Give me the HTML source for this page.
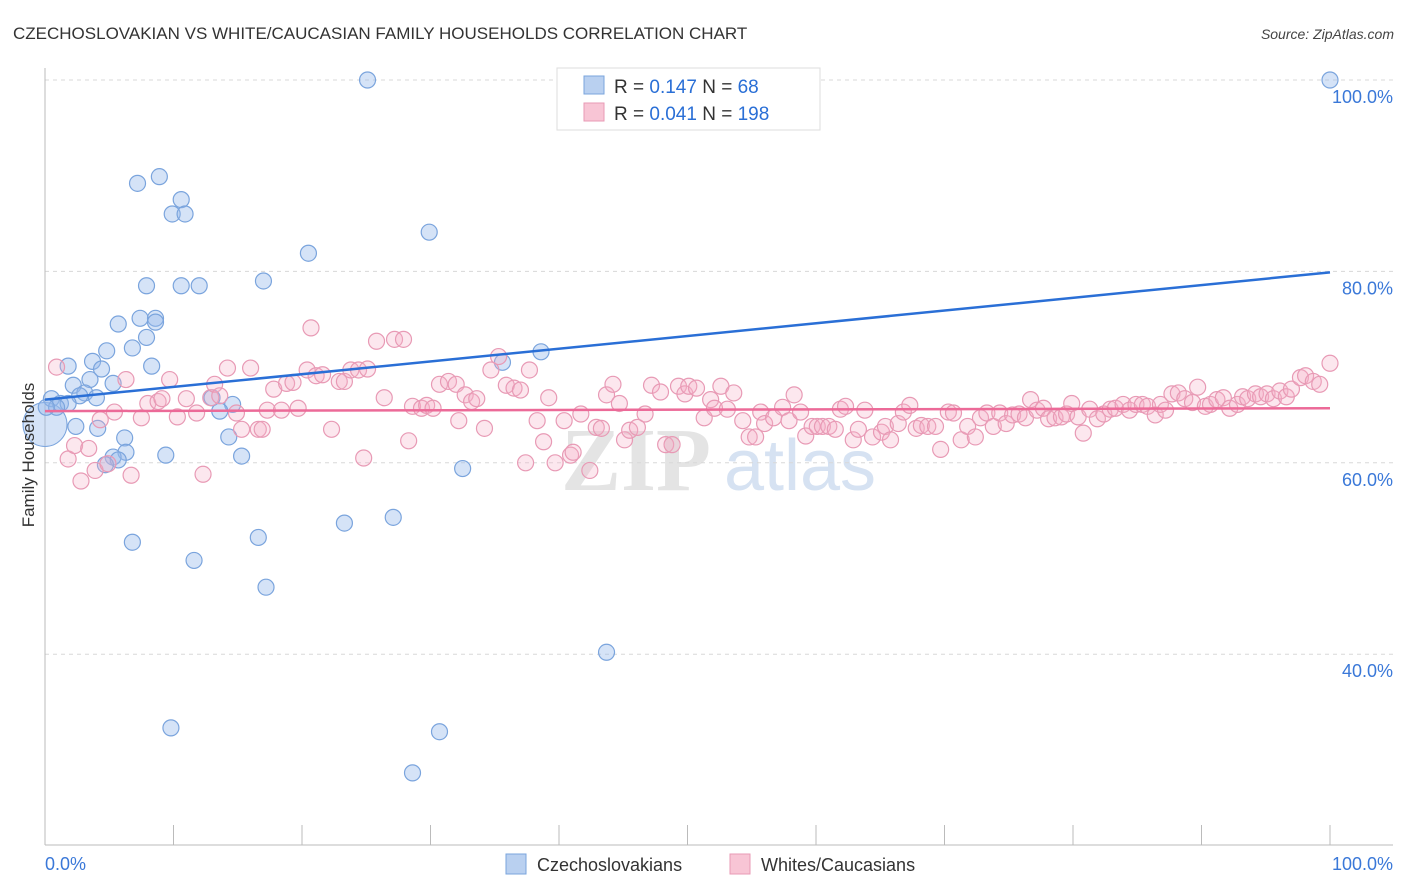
<!DOCTYPE html>
<html><head><meta charset="utf-8">
<style>
body{margin:0;background:#fff;font-family:"Liberation Sans",sans-serif;}
svg{display:block}
</style></head>
<body>
<svg id="chart" width="1406" height="892" viewBox="0 0 1406 892" xmlns="http://www.w3.org/2000/svg">
  <text x="13" y="39" font-size="17" fill="#333">CZECHOSLOVAKIAN VS WHITE/CAUCASIAN FAMILY HOUSEHOLDS CORRELATION CHART</text>
  <text x="1394" y="39" font-size="14" fill="#444" text-anchor="end" font-style="italic">Source: ZipAtlas.com</text>
  <g>
    <text x="636" y="490" font-size="90" fill="#e4e4e4" text-anchor="middle" font-family="Liberation Serif,serif" font-weight="bold">ZIP</text>
    <text x="800" y="490" font-size="72" fill="#d6e2f2" text-anchor="middle">atlas</text>
  </g>
  <g id="grid"></g>
  <g id="axes"></g>
  <g id="blue"></g>
  <g id="pink"></g>
  <g id="lines"></g>
  <text transform="translate(34,455) rotate(-90)" font-size="17" fill="#333" text-anchor="middle">Family Households</text>
  <g>
    <rect x="557" y="68" width="263" height="62" fill="#fff" stroke="#ddd"/>
    <rect x="584" y="76" width="20" height="18" fill="#b9d0f0" stroke="#7aa4dd"/>
    <rect x="584" y="103" width="20" height="18" fill="#f8c5d5" stroke="#e89ab5"/>
    <text x="614" y="93" font-size="19" fill="#333">R = <tspan fill="#2a6fd6">0.147</tspan>   N =  <tspan fill="#2a6fd6"> 68</tspan></text>
    <text x="614" y="120" font-size="19" fill="#333">R = <tspan fill="#2a6fd6">0.041</tspan>   N = <tspan fill="#2a6fd6">198</tspan></text>
  </g>
  <g>
    <rect x="506" y="854" width="20" height="20" fill="#b9d0f0" stroke="#7aa4dd"/>
    <text x="537" y="871" font-size="18" fill="#333">Czechoslovakians</text>
    <rect x="730" y="854" width="20" height="20" fill="#f8c5d5" stroke="#e89ab5"/>
    <text x="761" y="871" font-size="18" fill="#333">Whites/Caucasians</text>
  </g>
</svg>
<script>
const yTicks=[40,60,80,100];
const xTickVals=[0,10,20,30,40,50,60,70,80,90,100];
const blueTrend=[66.6,79.9];
const pinkTrend=[65.4,65.7];
const bluePoints=[[25.1,100],[100,100],[8.9,89.9],[7.2,89.2],[10.6,87.5],[9.9,86.0],[10.9,86.0],[29.9,84.1],[20.5,81.9],[17.0,79.0],[7.9,78.5],[10.6,78.5],[12.0,78.5],[7.4,75.1],[8.6,75.1],[5.7,74.5],[8.6,74.7],[7.9,73.1],[6.8,72.0],[4.8,71.7],[38.6,71.6],[3.7,70.6],[1.8,70.1],[8.3,70.1],[4.4,69.8],[3.5,68.7],[2.2,68.1],[5.3,68.3],[3.1,67.3],[2.7,67.0],[4.0,66.8],[0.5,66.7],[1.2,66.2],[1.8,66.2],[0.9,65.8],[0.1,65.8],[13.0,66.8],[14.6,66.1],[13.6,65.4],[4.1,63.6],[2.4,63.8],[6.2,62.6],[14.3,62.7],[35.6,70.5],[6.3,61.1],[5.3,60.6],[5.7,60.3],[9.4,60.8],[15.3,60.7],[4.7,59.8],[32.5,59.4],[27.1,54.3],[23.3,53.7],[16.6,52.2],[6.8,51.7],[11.6,49.8],[17.2,47.0],[43.7,40.2],[9.8,32.3],[30.7,31.9],[28.6,27.6]];
const pinkPoints=[[0.9,70.0],[1.8,60.4],[2.3,61.8],[2.8,58.1],[3.4,61.5],[3.9,59.2],[4.3,64.5],[4.9,59.9],[5.4,65.3],[6.3,68.7],[6.7,58.7],[7.5,64.7],[8.0,66.2],[8.8,66.4],[9.1,66.7],[9.7,68.7],[10.3,64.8],[11.0,66.7],[11.8,65.2],[12.3,58.8],[12.9,66.8],[13.2,68.2],[13.6,67.0],[14.2,69.9],[14.9,65.2],[15.3,63.5],[16.0,69.9],[16.6,63.5],[16.9,63.5],[17.3,65.5],[17.8,67.7],[18.4,65.5],[18.8,68.3],[19.3,68.4],[19.7,65.7],[20.7,74.1],[20.4,69.7],[21.1,69.1],[21.6,69.2],[22.3,63.5],[22.9,68.5],[23.3,68.5],[23.8,69.7],[24.4,69.7],[24.8,60.5],[25.1,69.8],[25.8,72.7],[26.4,66.8],[27.2,72.9],[27.9,72.9],[28.3,62.3],[28.6,65.9],[29.3,65.7],[29.7,66.0],[30.2,65.7],[30.7,68.2],[31.4,68.5],[32.0,68.2],[32.2,64.4],[32.7,67.1],[33.2,66.4],[33.6,66.7],[34.2,63.6],[34.7,69.7],[35.3,71.1],[35.9,68.1],[36.5,67.8],[37.0,67.6],[37.4,60.0],[37.7,69.7],[38.3,64.4],[38.8,62.2],[39.2,66.8],[39.7,60.0],[40.4,64.4],[40.9,60.8],[41.1,61.1],[41.7,65.1],[42.4,59.2],[42.9,63.7],[43.3,63.6],[43.7,67.1],[44.2,68.2],[44.7,66.2],[45.1,62.4],[45.5,63.4],[46.1,63.7],[46.7,65.1],[47.2,68.1],[47.9,67.4],[48.3,61.9],[48.8,61.9],[49.3,68.0],[49.8,67.2],[50.1,68.0],[50.7,67.8],[51.3,64.7],[51.8,66.6],[52.1,65.7],[52.6,68.0],[53.1,65.6],[53.6,67.3],[54.3,64.4],[54.8,62.7],[55.3,62.7],[55.7,65.3],[56.0,64.1],[56.7,64.7],[57.4,65.8],[57.9,64.4],[58.3,67.1],[58.8,65.3],[59.2,62.8],[59.7,63.8],[60.1,63.8],[60.5,63.8],[61.0,63.8],[61.5,63.5],[61.9,65.6],[62.3,65.9],[62.9,62.4],[63.3,63.5],[63.8,65.5],[64.4,62.7],[65.1,63.2],[65.4,63.8],[65.8,62.4],[66.4,64.1],[66.8,65.3],[67.3,66.0],[67.8,63.6],[68.2,63.9],[68.7,63.8],[69.3,63.8],[69.7,61.4],[70.3,65.3],[70.7,65.2],[71.3,62.4],[71.8,63.8],[72.4,62.7],[72.8,64.7],[73.3,65.2],[73.8,63.8],[74.3,65.2],[74.8,64.1],[75.3,65.0],[75.8,65.1],[76.3,64.7],[76.7,66.6],[77.2,65.5],[77.7,65.7],[78.1,64.6],[78.6,64.7],[79.1,64.8],[79.5,65.1],[79.9,66.2],[80.4,64.8],[80.8,63.1],[81.3,65.6],[81.9,64.6],[82.4,65.1],[82.9,65.6],[83.3,65.7],[83.9,66.1],[84.4,65.5],[84.9,66.1],[85.4,66.1],[85.8,65.9],[86.4,65.0],[86.8,66.1],[87.2,65.5],[87.7,67.2],[88.2,67.3],[88.7,66.7],[89.3,66.3],[89.7,67.9],[90.3,65.9],[90.7,66.1],[91.2,66.6],[91.7,66.8],[92.2,65.7],[92.8,66.1],[93.2,66.9],[93.6,66.7],[94.2,67.2],[94.6,66.9],[95.1,67.2],[95.6,66.7],[96.1,67.5],[96.6,66.9],[97.0,67.7],[97.7,68.9],[98.1,69.1],[98.7,68.5],[99.2,68.2],[100,70.4]];
const bigPoint=[0,64.0];

const NS="http://www.w3.org/2000/svg";
function xs(v){return 45+v*12.85;}
function ys(v){return 1037-v*9.57;}
function mk(tag,attrs,parent){const e=document.createElementNS(NS,tag);for(const k in attrs)e.setAttribute(k,attrs[k]);parent.appendChild(e);return e;}

const grid=document.getElementById('grid');
yTicks.forEach(t=>{
  const l=mk('line',{x1:45,x2:1393,y1:ys(t),y2:ys(t),stroke:'#d8d8d8','stroke-dasharray':'4,4'},grid);
  
  
  const tx=mk('text',{x:1393,y:ys(t)+23,'font-size':18,fill:'#3a78d8','text-anchor':'end'},grid);
  tx.textContent=t.toFixed(1)+'%';
  
  
});
const axes=document.getElementById('axes');
mk('line',{x1:45,x2:45,y1:68,y2:845,stroke:'#bbb'},axes);
mk('line',{x1:45,x2:1393,y1:845,y2:845,stroke:'#bbb'},axes);
xTickVals.forEach(t=>{
  const l=mk('line',{x1:xs(t),x2:xs(t),y1:825,y2:845,stroke:'#bbb'},axes);
  
  
});
const x0=mk('text',{x:45,y:870,'font-size':18,fill:'#3a78d8'},axes);x0.textContent='0.0%';


const x1=mk('text',{x:1393,y:870,'font-size':18,fill:'#3a78d8','text-anchor':'end'},axes);x1.textContent='100.0%';



const blue=document.getElementById('blue');
const big=mk('circle',{cx:xs(bigPoint[0]),cy:ys(bigPoint[1]),r:22,fill:'rgba(150,185,235,0.4)',stroke:'#7aa4dd'},blue);


bluePoints.forEach(p=>{
  const c=mk('circle',{cx:xs(p[0]),cy:ys(p[1]),r:8,fill:'rgba(150,185,235,0.4)',stroke:'#7aa4dd','stroke-width':1.2},blue);
  
  
});
const pink=document.getElementById('pink');
pinkPoints.forEach(p=>{
  const c=mk('circle',{cx:xs(p[0]),cy:ys(p[1]),r:8,fill:'rgba(244,175,200,0.3)',stroke:'#e89ab5','stroke-width':1.2},pink);
  
  
});
const lines=document.getElementById('lines');
const bl=mk('line',{x1:xs(0),y1:ys(blueTrend[0]),x2:xs(100),y2:ys(blueTrend[1]),stroke:'#2a6fd6','stroke-width':2.5},lines);


const pl=mk('line',{x1:xs(0),y1:ys(pinkTrend[0]),x2:xs(100),y2:ys(pinkTrend[1]),stroke:'#ec6a98','stroke-width':2.5},lines);


</script>
</body></html>
